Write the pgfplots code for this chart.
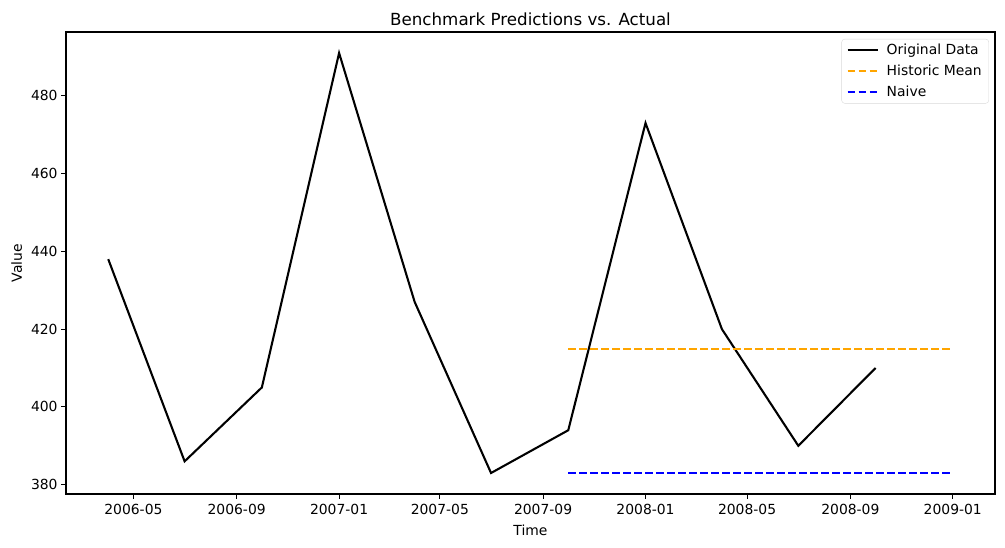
\documentclass[border=0pt]{standalone}
\usepackage{pgfplots}
\pgfplotsset{compat=1.18}
\usepackage{fontspec}
\setmainfont{DejaVu Sans}
\begin{document}
\begin{tikzpicture}[x=1pt,y=1pt]
\useasboundingbox (0,0) rectangle (1005,547);
\begin{axis}[
  at={(66pt,53pt)}, anchor=south west,
  scale only axis, width=929pt, height=462pt,
  xmin=39.7, xmax=1146.3, ymin=377.6, ymax=496.4,
  xtick={120,243,365,485,608,730,851,974,1096},
  xticklabels={2006-05,2006-09,2007-01,2007-05,2007-09,2008-01,2008-05,2008-09,2009-01},
  ytick={380,400,420,440,460,480},
  /pgf/number format/assume math mode=true,
  /pgf/number format/1000 sep={},
  tick align=outside, tick pos=left,
  major tick length=4.9pt,
  every tick/.style={black, line width=1.1pt},
  axis line style={line width=1.1pt},
  ticklabel style={font=\fontsize{13.9}{16}\selectfont},
  xticklabel style={yshift=-2pt},
  label style={font=\fontsize{13.9}{16}\selectfont},
  xlabel={Time}, ylabel={Value},
  xlabel style={yshift=-3pt},
  ylabel style={yshift=2pt},
  title={Benchmark Predictions vs. Actual},
  title style={font=\fontsize{16.7}{19}\selectfont, yshift=-3pt},
  legend style={at={(0.9935,0.985)}, anchor=north east, draw=black!15, rounded corners=3pt,
    font=\fontsize{13.9}{16}\selectfont, inner xsep=5pt, inner ysep=3pt, row sep=5pt,
    /tikz/column 1/.style={column sep=6pt}},
  legend cell align=left,
  legend image code/.code={\draw[#1] (0pt,0pt) -- (30pt,0pt);},
]
\addplot[black, line width=2.08pt] coordinates {
(90,438) (181,386) (273,405) (365,491) (455,427) (546,383) (638,394) (730,473) (821,420) (912,390) (1004,410)
};
\addlegendentry{Original Data}
\addplot[color={rgb,255:red,255;green,165;blue,0}, line width=2.08pt, dash pattern=on 7.7pt off 3.3pt] coordinates {
(638,414.8) (1096,414.8)
};
\addlegendentry{Historic Mean}
\addplot[color={rgb,255:red,0;green,0;blue,255}, line width=2.08pt, dash pattern=on 7.7pt off 3.3pt] coordinates {
(638,383) (1096,383)
};
\addlegendentry{Naive}
\end{axis}
\end{tikzpicture}
\end{document}
